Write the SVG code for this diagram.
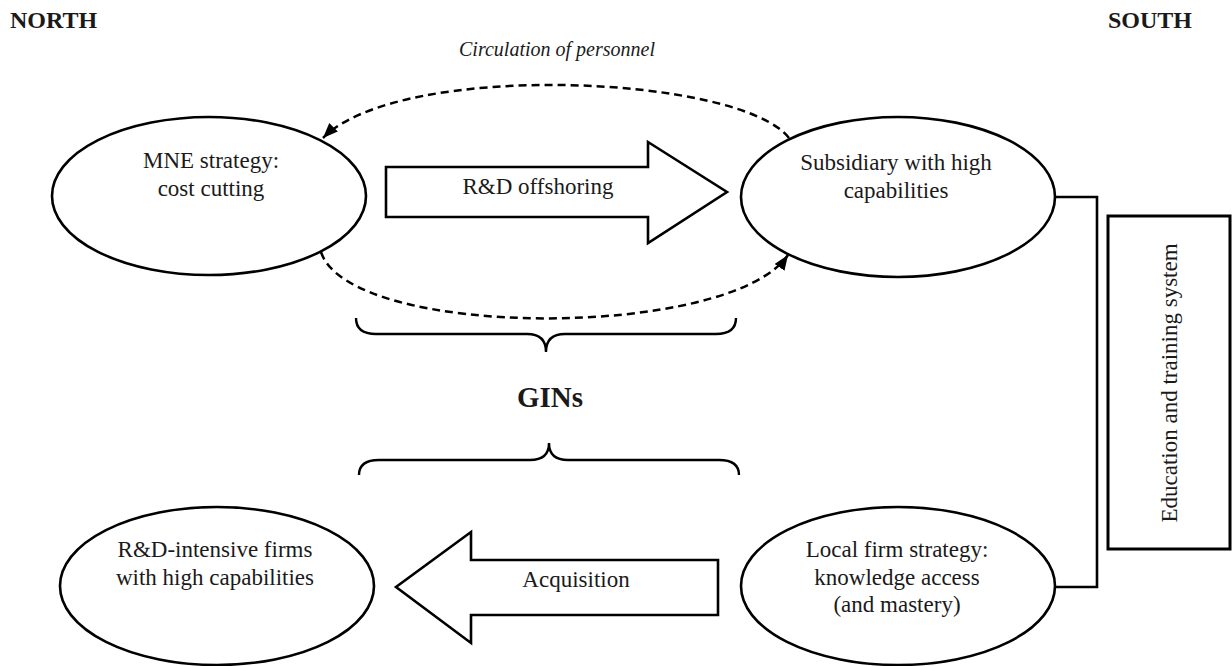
<svg xmlns="http://www.w3.org/2000/svg" width="1232" height="666" viewBox="0 0 1232 666" font-family="'Liberation Serif', 'DejaVu Serif', serif">
<style>
text{font-family:'Liberation Serif','DejaVu Serif',serif;fill:#1a1a1a}
.t{font-size:23px;text-anchor:middle}
.h{font-size:24px;font-weight:bold}
.node{fill:#fff;stroke:#000;stroke-width:2.6}
.big{fill:#fff;stroke:#000;stroke-width:2.6;stroke-linejoin:miter}
.dash{fill:none;stroke:#000;stroke-width:2.5;stroke-dasharray:8 5}
.line{fill:none;stroke:#000;stroke-width:2.6}
.brace{fill:none;stroke:#000;stroke-width:2.4}
</style>
<defs>
<marker id="ah" viewBox="0 0 15 12" refX="15" refY="6" markerWidth="15" markerHeight="12" markerUnits="userSpaceOnUse" orient="auto">
<path d="M0,0 L15,6 L0,12 Z" fill="#000"/>
</marker>
</defs>
<rect width="1232" height="666" fill="#fff"/>
<text class="h" x="10" y="28">NORTH</text>
<text class="h" x="1108" y="28">SOUTH</text>
<text x="557" y="56" font-size="20" font-style="italic" text-anchor="middle">Circulation of personnel</text>
<g id="connectors">
<path class="dash" d="M789,138 C740,75 400,60 323,138" marker-end="url(#ah)"/>
<path class="dash" d="M321,252 C350,340 730,340 788,255" marker-end="url(#ah)"/>
<path class="line" d="M1055,197 H1097 V587 H1055"/>
</g>
<g id="rd-offshoring">
<polygon class="big" points="386,167 648,167 648,142 727,192 648,243 648,217 386,217"/>
<text class="t" x="538" y="194">R&amp;D offshoring</text>
</g>
<g id="acquisition">
<polygon class="big" points="718,560 471,560 471,532 396,587 471,643 471,615 718,615"/>
<text class="t" x="576" y="587">Acquisition</text>
</g>
<g id="mne">
<ellipse class="node" cx="209" cy="196" rx="157" ry="79"/>
<text class="t" x="211" y="168">MNE strategy:</text>
<text class="t" x="211" y="196">cost cutting</text>
</g>
<g id="subsidiary">
<ellipse class="node" cx="898" cy="197" rx="157" ry="80"/>
<text class="t" x="896" y="170">Subsidiary with high</text>
<text class="t" x="896" y="198">capabilities</text>
</g>
<g id="rd-intensive">
<ellipse class="node" cx="217" cy="586" rx="157" ry="79"/>
<text class="t" x="215" y="557">R&amp;D-intensive firms</text>
<text class="t" x="215" y="585">with high capabilities</text>
</g>
<g id="local-firm">
<ellipse class="node" cx="898" cy="586" rx="157" ry="79"/>
<text class="t" x="897" y="557">Local firm strategy:</text>
<text class="t" x="897" y="585">knowledge access</text>
<text class="t" x="897" y="612">(and mastery)</text>
</g>
<g id="gins">
<path class="brace" d="M356,318 Q356,334 376,334 L527,334 Q546,334 546,352 Q546,334 565,334 L716,334 Q736,334 736,318"/>
<path class="brace" d="M359,475 Q359,460 379,460 L530,460 Q549,460 549,443 Q549,460 568,460 L719,460 Q739,460 739,475"/>
<text x="550" y="407" font-size="29" font-weight="bold" text-anchor="middle">GINs</text>
</g>
<g id="education">
<rect x="1108" y="216" width="122" height="333" fill="#fff" stroke="#000" stroke-width="3"/>
<text class="t" transform="translate(1177,383) rotate(-90)" x="0" y="0">Education and training system</text>
</g>
</svg>
